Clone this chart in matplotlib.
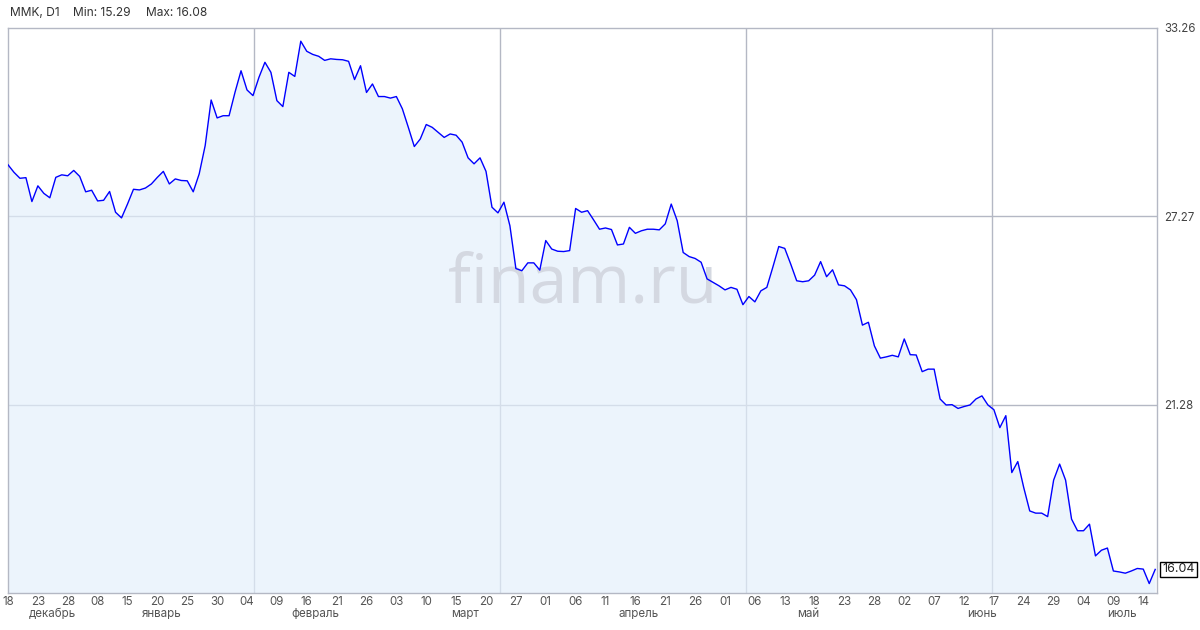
import numpy as np
import matplotlib.pyplot as plt
from matplotlib.transforms import blended_transform_factory

plt.rcParams['font.family'] = ['Inter', 'DejaVu Sans']

# daily close values
close = [
    28.91, 28.67, 28.48, 28.50, 27.74, 28.24, 28.00, 27.86, 28.51, 28.59,
    28.56, 28.73, 28.54, 28.05, 28.10, 27.76, 27.78, 28.06, 27.40, 27.22,
    27.66, 28.13, 28.11, 28.17, 28.30, 28.51, 28.70, 28.30, 28.46, 28.41,
    28.40, 28.05, 28.62, 29.52, 30.97, 30.40, 30.47, 30.47, 31.22, 31.90,
    31.29, 31.11, 31.69, 32.17, 31.85, 30.95, 30.76, 31.85, 31.72, 32.84,
    32.52, 32.42, 32.36, 32.23, 32.28, 32.26, 32.25, 32.20, 31.62, 32.06,
    31.21, 31.48, 31.08, 31.08, 31.03, 31.08, 30.69, 30.10, 29.49, 29.73,
    30.19, 30.10, 29.94, 29.78, 29.89, 29.85, 29.63, 29.13, 28.94, 29.13,
    28.70, 27.56, 27.38, 27.72, 26.97, 25.61, 25.54, 25.79, 25.79, 25.56,
    26.50, 26.23, 26.16, 26.15, 26.18, 27.52, 27.40, 27.45, 27.16, 26.86,
    26.90, 26.85, 26.36, 26.39, 26.92, 26.73, 26.81, 26.86, 26.86, 26.84,
    27.03, 27.66, 27.13, 26.12, 25.99, 25.93, 25.81, 25.28, 25.17, 25.06,
    24.93, 25.01, 24.95, 24.46, 24.72, 24.55, 24.90, 25.01, 25.65, 26.31,
    26.25, 25.75, 25.22, 25.19, 25.22, 25.40, 25.83, 25.35, 25.57, 25.09,
    25.06, 24.93, 24.62, 23.81, 23.90, 23.15, 22.76, 22.80, 22.85, 22.80,
    23.37, 22.87, 22.86, 22.33, 22.41, 22.41, 21.46, 21.27, 21.28, 21.16,
    21.22, 21.27, 21.46, 21.56, 21.27, 21.12, 20.55, 20.93, 19.12, 19.47,
    18.64, 17.90, 17.83, 17.83, 17.72, 18.88, 19.39, 18.88, 17.64, 17.27,
    17.27, 17.48, 16.47, 16.65, 16.72, 15.99, 15.96, 15.92, 15.99, 16.07,
    16.05, 15.59, 16.04,
]

day_labels = ['18', '23', '28', '08', '15', '20', '25', '30', '04', '09',
              '16', '21', '26', '03', '10', '15', '20', '27', '01', '06',
              '11', '16', '21', '26', '01', '06', '13', '18', '23', '28',
              '02', '07', '12', '17', '24', '29', '04', '09', '14']
months = ['декабрь', 'январь', 'февраль', 'март', 'апрель', 'май', 'июнь', 'июль']
month_pos = [7.5, 25.8, 51.4, 76.5, 105.6, 134.0, 163.0, 186.5]

y_min, y_max = 15.29, 33.26
header = ['MMK, D1', 'Min: 15.29', 'Max: 16.08']

fig = plt.figure(figsize=(12, 6.3), dpi=100)
ax = fig.add_axes([8 / 1200, 1 - 593 / 630, 1149 / 1200, 565 / 630])

x = np.arange(len(close))
ax.set_xlim(0, 192.3)
ax.set_ylim(y_min, y_max)

grid_c = '#b4b8c4'
for k in range(1, 5):
    ax.axvline(41.18 * k, color=grid_c, lw=1, zorder=1)
step = (y_max - y_min) / 3
for k in range(1, 3):
    ax.axhline(y_min + step * k, color=grid_c, lw=1, zorder=1)

ax.fill_between(x, close, y_min, color=(0.895, 0.94, 0.99), alpha=0.68,
                lw=0, zorder=2)
ax.text(0.5004, 0.545, 'finam.ru', transform=ax.transAxes, fontsize=49,
        color='#d4d8e1', ha='center', va='center', zorder=3,
        family=['Open Sans', 'DejaVu Sans'])
ax.plot(x, close, color='#0000ff', lw=1.0, zorder=4)

for s in ax.spines.values():
    s.set_color(grid_c)
    s.set_linewidth(1)

ax.set_xticks(x[::5][:len(day_labels)])
ax.set_xticklabels(day_labels)
ax.tick_params(axis='x', length=0, pad=2, labelsize=8.3, labelcolor='#555555')

yt = [y_min + step * k for k in range(1, 4)]
ax.yaxis.tick_right()
ax.set_yticks(yt)
ax.set_yticklabels(['%.2f' % v for v in yt])
ax.tick_params(axis='y', length=0, pad=5, labelsize=8.3, labelcolor='#444444')

tr = blended_transform_factory(ax.transData, ax.transAxes)
for m, p in zip(months, month_pos):
    ax.text(p, -0.026, m, transform=tr, ha='center', va='top',
            fontsize=8.3, color='#555555')

tr_y = blended_transform_factory(ax.transAxes, ax.transData)
ax.text(1.0045, close[-1], '%.2f' % close[-1], transform=tr_y, ha='left',
        va='center', fontsize=9, color='#222222',
        bbox=dict(boxstyle='square,pad=0.15', fc='white', ec='black', lw=1))

hx = [10, 73, 146]
for t, px in zip(header, hx):
    fig.text(px / 1200, 1 - 13 / 630, t, ha='left', va='center',
             fontsize=8.6, color='#333333')

fig.savefig('out.png', dpi=100)
